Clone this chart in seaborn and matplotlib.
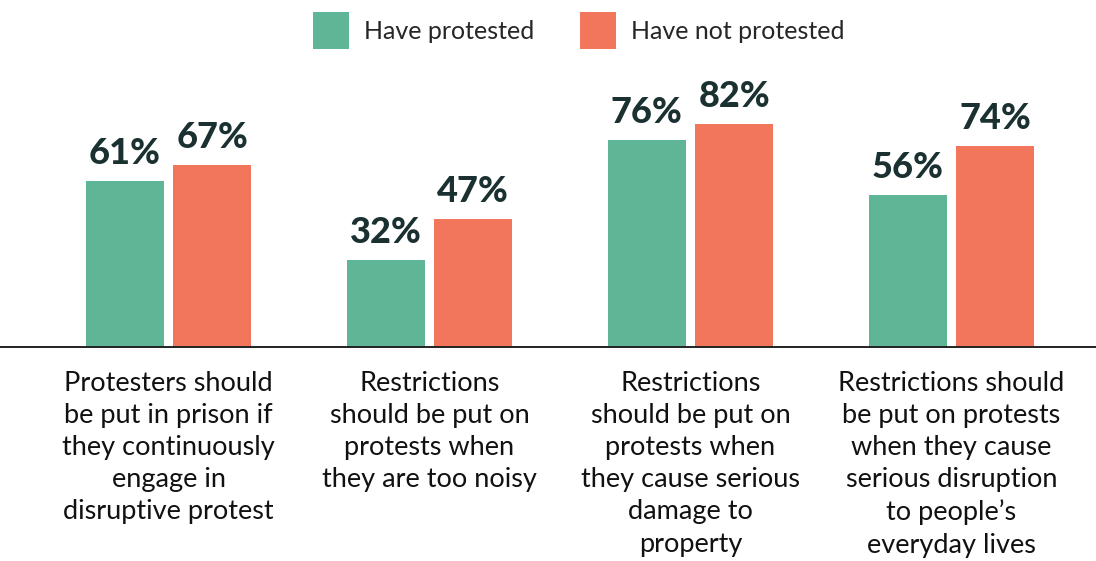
import matplotlib
matplotlib.use("Agg")
import matplotlib.pyplot as plt
import seaborn as sns
import pandas as pd

categories = [
    "Protesters should\nbe put in prison if\nthey continuously\nengage in\ndisruptive protest",
    "Restrictions\nshould be put on\nprotests when\nthey are too noisy",
    "Restrictions\nshould be put on\nprotests when\nthey cause serious\ndamage to\nproperty",
    "Restrictions should\nbe put on protests\nwhen they cause\nserious disruption\nto people\u2019s\neveryday lives",
]
groups = ["Have protested", "Have not protested"]
have_protested = [61, 32, 76, 56]
have_not_protested = [67, 47, 82, 74]

colors = {"Have protested": "#5FB697", "Have not protested": "#F2765B"}
label_color = "#1B3131"

df = pd.DataFrame({
    "category": categories * 2,
    "group": [groups[0]] * 4 + [groups[1]] * 4,
    "value": have_protested + have_not_protested,
})

sns.set_theme(style="white")
plt.rcParams["font.family"] = ["Lato", "DejaVu Sans"]

fig = plt.figure(figsize=(10.96, 5.61), dpi=100)
ax = fig.add_axes([0, 0.3815, 1, 0.4848])

sns.barplot(data=df, x="category", y="value", hue="group", hue_order=groups,
            palette=colors, width=0.67, gap=0.11, saturation=1,
            edgecolor="none", linewidth=0, ax=ax)

for container in ax.containers:
    ax.bar_label(container, labels=[f"{v:.0f}%" for v in container.datavalues],
                 padding=8, fontsize=26, fontweight="black", color=label_color)

ax.set_ylim(0, 100)
ax.set_xlim(-0.6456, 3.5536)
ax.set_xlabel("")
ax.set_ylabel("")
ax.set_yticks([])
ax.tick_params(axis="x", length=0, pad=17)
ax.set_xticks(range(len(categories)))
ax.set_xticklabels(categories, fontsize=19.5, color="#111111", linespacing=1.36,
                   va="top", ha="center")
for side in ["top", "left", "right"]:
    ax.spines[side].set_visible(False)
ax.spines["bottom"].set_color("#222222")
ax.spines["bottom"].set_linewidth(1.4)

handles, labels = ax.get_legend_handles_labels()
ax.get_legend().remove()
fig.legend(handles, labels, loc="center", bbox_to_anchor=(0.528, 0.945),
           ncol=2, frameon=False, fontsize=18, handlelength=1.45,
           handleheight=1.9, handletextpad=0.6, columnspacing=1.8)

fig.savefig("out.png", dpi=100, facecolor="white")
